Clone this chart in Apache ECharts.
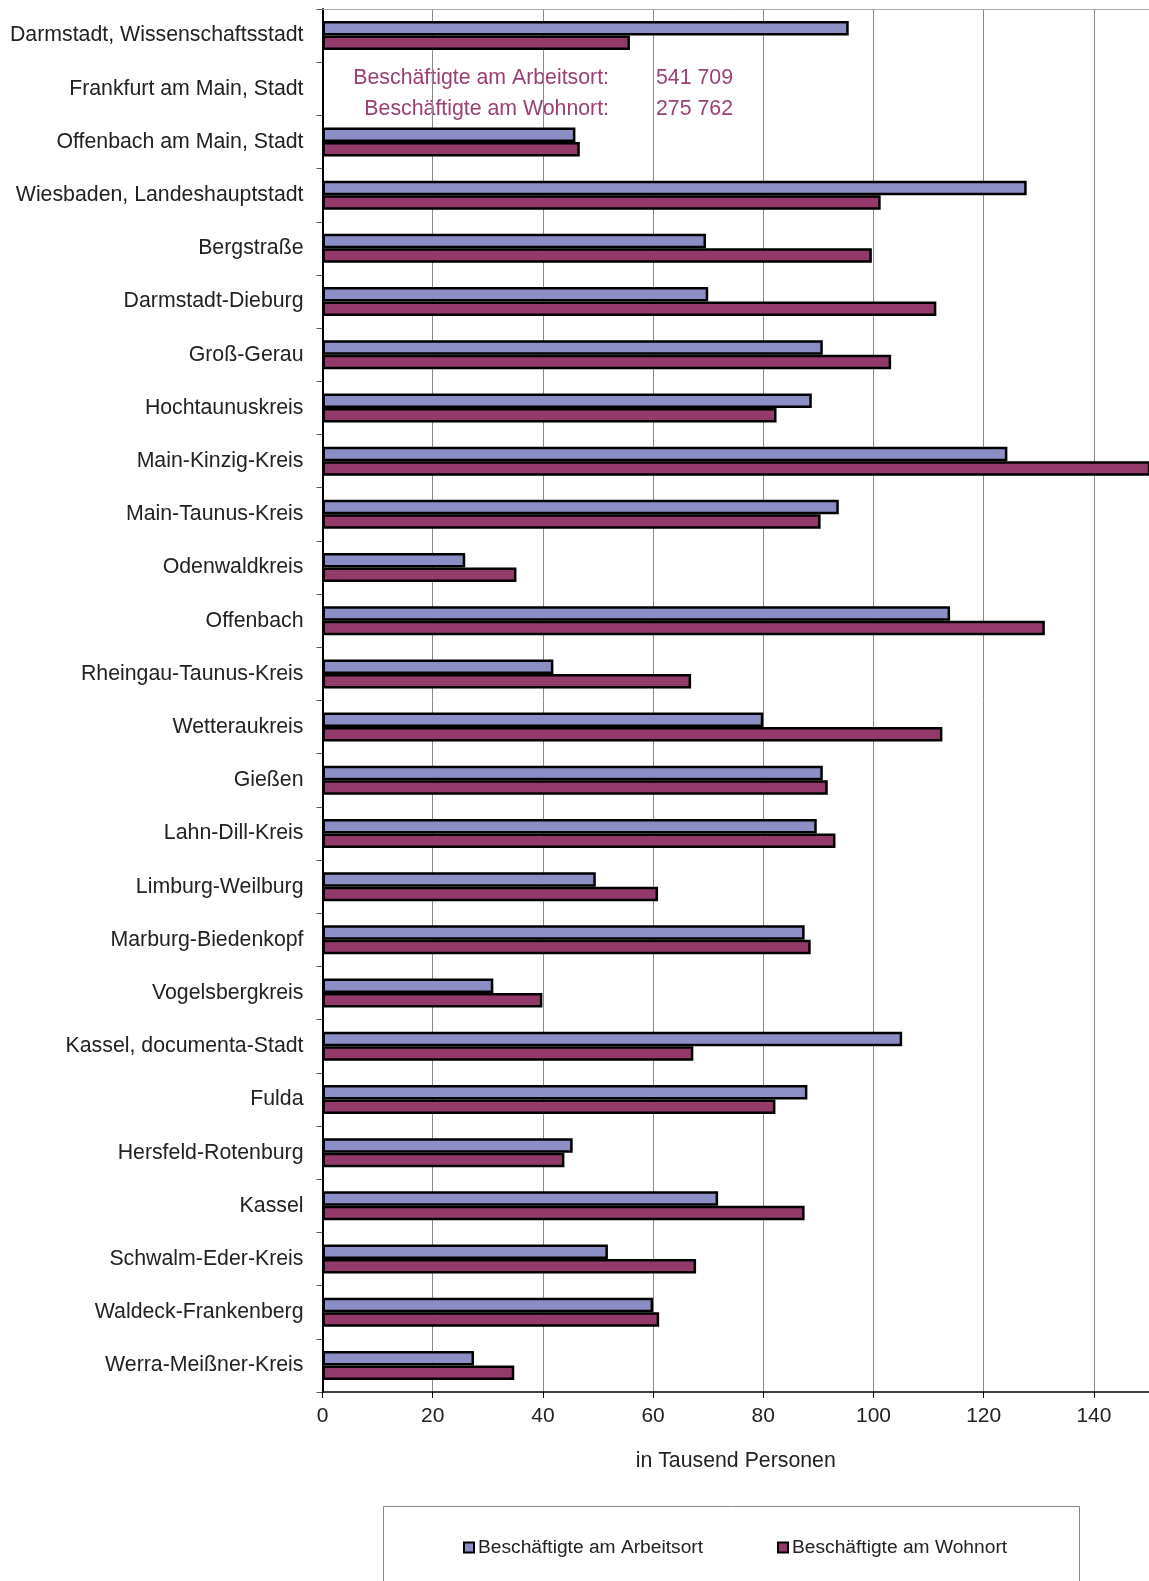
<!DOCTYPE html>
<html><head><meta charset="utf-8">
<script src="https://cdn.jsdelivr.net/npm/echarts@6/dist/echarts.min.js"></script>
<style>html,body{margin:0;padding:0;background:#fff}#c{width:1149px;height:1581px}</style>
</head><body><div id="c"></div>
<script>
const categories = ["Darmstadt, Wissenschaftsstadt","Frankfurt am Main, Stadt","Offenbach am Main, Stadt","Wiesbaden, Landeshauptstadt","Bergstraße","Darmstadt-Dieburg","Groß-Gerau","Hochtaunuskreis","Main-Kinzig-Kreis","Main-Taunus-Kreis","Odenwaldkreis","Offenbach","Rheingau-Taunus-Kreis","Wetteraukreis","Gießen","Lahn-Dill-Kreis","Limburg-Weilburg","Marburg-Biedenkopf","Vogelsbergkreis","Kassel, documenta-Stadt","Fulda","Hersfeld-Rotenburg","Kassel","Schwalm-Eder-Kreis","Waldeck-Frankenberg","Werra-Meißner-Kreis"];
const arbeitsort = [95.5,null,45.9,127.8,69.6,70.0,90.8,88.8,124.3,93.7,25.9,113.9,41.9,80.0,90.8,89.7,49.6,87.5,31.0,105.2,88.0,45.4,71.8,51.8,60.0,27.5];
const wohnort = [55.8,null,46.7,101.3,99.7,111.4,103.2,82.4,155,90.4,35.2,131.1,66.9,112.5,91.7,93.1,60.9,88.6,39.9,67.3,82.2,43.9,87.5,67.8,61.1,34.8];
const frankfurtLabels = ["Beschäftigte am Arbeitsort:","Beschäftigte am Wohnort:"];
const frankfurtValues = ["541 709","275 762"];
const seriesNames = ["Beschäftigte am Arbeitsort","Beschäftigte am Wohnort"];
const xTicks = {min:0,max:150,interval:20};

const FONT = "Liberation Sans, Arial, sans-serif";
const chart = echarts.init(document.getElementById('c'));
const annColor = '#9b3f74';
chart.setOption({
  animation:false,
  backgroundColor:'#fff',
  grid:{left:322.5,right:-3,top:9,bottom:189,containLabel:false},
  legend:{
    left:458, top:1533, itemWidth:10, itemHeight:10, itemGap:74, icon:'rect',
    itemStyle:{borderColor:'#000',borderWidth:2},
    textStyle:{fontFamily:FONT,fontSize:19.2,color:'#222',padding:[0,0,0,-1]},
    data:seriesNames
  },
  graphic:[
    {type:'rect',silent:true,shape:{x:383.5,y:1506.5,width:696,height:90},style:{fill:'none',stroke:'#888',lineWidth:1}},
    {type:'text',x:609,y:78,style:{text:frankfurtLabels[0],align:'right',verticalAlign:'middle',font:'21.3px '+FONT,fill:annColor}},
    {type:'text',x:609,y:109,style:{text:frankfurtLabels[1],align:'right',verticalAlign:'middle',font:'21.3px '+FONT,fill:annColor}},
    {type:'text',x:656,y:78,style:{text:frankfurtValues[0],align:'left',verticalAlign:'middle',font:'21.3px '+FONT,fill:annColor}},
    {type:'text',x:656,y:109,style:{text:frankfurtValues[1],align:'left',verticalAlign:'middle',font:'21.3px '+FONT,fill:annColor}}
  ],
  xAxis:[{
    type:'value', min:xTicks.min, max:xTicks.max, interval:xTicks.interval,
    name:'in Tausend Personen', nameLocation:'middle', nameGap:59,
    nameTextStyle:{fontFamily:FONT,fontSize:21.3,color:'#222'},
    axisLine:{show:true,lineStyle:{color:'#000',width:1.5}},
    axisTick:{show:true,length:6,lineStyle:{color:'#000'}},
    axisLabel:{fontFamily:FONT,fontSize:21,color:'#222',margin:14,showMaxLabel:false},
    splitLine:{show:true,lineStyle:{color:'#888',width:1}}
  },{
    type:'value', position:'top', min:xTicks.min, max:xTicks.max, interval:xTicks.interval,
    axisLine:{show:true,lineStyle:{color:'#aaa',width:1}},
    axisTick:{show:false}, axisLabel:{show:false}, splitLine:{show:false}
  }],
  yAxis:{
    type:'category', data:categories, inverse:true,
    axisLine:{show:true,lineStyle:{color:'#000',width:2}},
    axisTick:{show:true,length:6,lineStyle:{color:'#555'}},
    axisLabel:{fontFamily:FONT,fontSize:21.3,color:'#222',margin:19},
    splitLine:{show:false}
  },
  series:[
    {name:seriesNames[0],type:'bar',data:arbeitsort,barWidth:14.5,barGap:'0%',
     itemStyle:{color:'#8b8fc6',borderColor:'#000',borderWidth:2.5}},
    {name:seriesNames[1],type:'bar',data:wohnort,barWidth:14.5,
     itemStyle:{color:'#933a6b',borderColor:'#000',borderWidth:2.5}}
  ]
});
</script></body></html>
